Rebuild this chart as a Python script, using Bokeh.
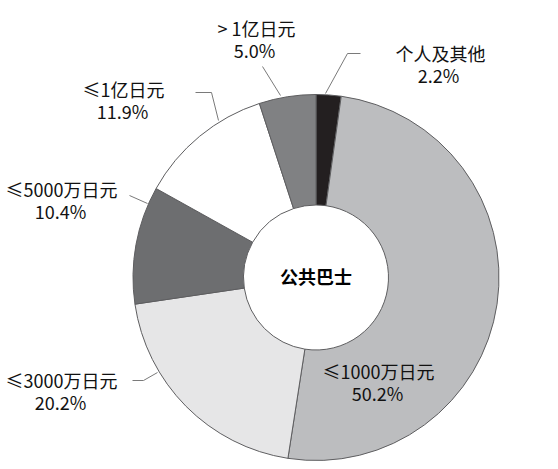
import numpy as np
from bokeh.plotting import figure
from bokeh.models import Range1d, ColumnDataSource
from bokeh.core.properties import value
from bokeh.embed import file_html
from bokeh.resources import INLINE

# ---- data (clockwise from 12 o'clock) ----
categories = ["个人及其他", "≤1000万日元", "≤3000万日元", "≤5000万日元", "≤1亿日元", "> 1亿日元"]
shares = [2.2, 50.2, 20.2, 10.4, 11.9, 5.0]
center_title = "公共巴士"

# ---- styles / layout ----
colors = ["#231f20", "#bcbdbf", "#e6e6e7", "#6d6e70", "#ffffff", "#808183"]
H = 461  # frame height, used to flip image-style y coordinates
cx, cy = 315.5, H - 277
R_out, R_in = 183, 72.5
font = value("Noto Sans CJK SC")
fs = "18px"
line_gap = 22
# label anchors (image x, image y of first line)
label_pos = [(440, 52), (378, 370), (61, 379), (61, 188), (123, 88), (256, 27)]
pct_dx = [-2, -1, -1, -1, -1, -2]
# leader lines in image coordinates
leaders = [
    [(360, 53), (347, 53), (325, 93)],
    None,
    [(132, 380), (143, 380), (157, 372)],
    [(129, 195), (147, 203)],
    [(195, 92), (211, 92), (218, 120)],
    [(262, 66), (280, 95)],
]

vals = np.array(shares, dtype=float)
frac = vals / vals.sum()
cum = np.concatenate([[0.0], np.cumsum(frac)])
start = np.pi / 2 - 2 * np.pi * cum[:-1]
end = np.pi / 2 - 2 * np.pi * cum[1:]

p = figure(width=542, height=H, output_backend="svg", toolbar_location=None,
           x_range=Range1d(0, 542), y_range=Range1d(0, H),
           min_border=0, background_fill_color="white", border_fill_color="white")
p.axis.visible = False
p.grid.visible = False
p.outline_line_color = None

src = ColumnDataSource(dict(start=start, end=end, color=colors, cat=categories))
p.annular_wedge(x=cx, y=cy, inner_radius=R_in, outer_radius=R_out,
                start_angle="start", end_angle="end", direction="clock",
                fill_color="color", line_color="#5e5e60", line_width=1, source=src)

# leader lines
for pts in leaders:
    if pts is None:
        continue
    xs = [q[0] for q in pts]
    ys = [H - q[1] for q in pts]
    p.line(xs, ys, line_color="#7a7a7a", line_width=1)

# labels
lx = [q[0] for q in label_pos]
ly = [H - q[1] for q in label_pos]
p.text(x=lx, y=ly, text=categories, text_font=font, text_font_size=fs,
       text_align="center", text_baseline="middle", text_color="#111111")
pct = [f"{v:.1f}%" for v in shares]
p.text(x=[a + d for a, d in zip(lx, pct_dx)], y=[b - line_gap for b in ly], text=pct,
       text_font=font, text_font_size=fs, text_align="center", text_baseline="middle",
       text_color="#111111")

p.text(x=[cx], y=[cy + 2], text=[center_title], text_font=font, text_font_size=fs,
       text_font_style="bold", text_align="center", text_baseline="middle", text_color="#000000")

open("out.html", "w").write(file_html(p, INLINE))
